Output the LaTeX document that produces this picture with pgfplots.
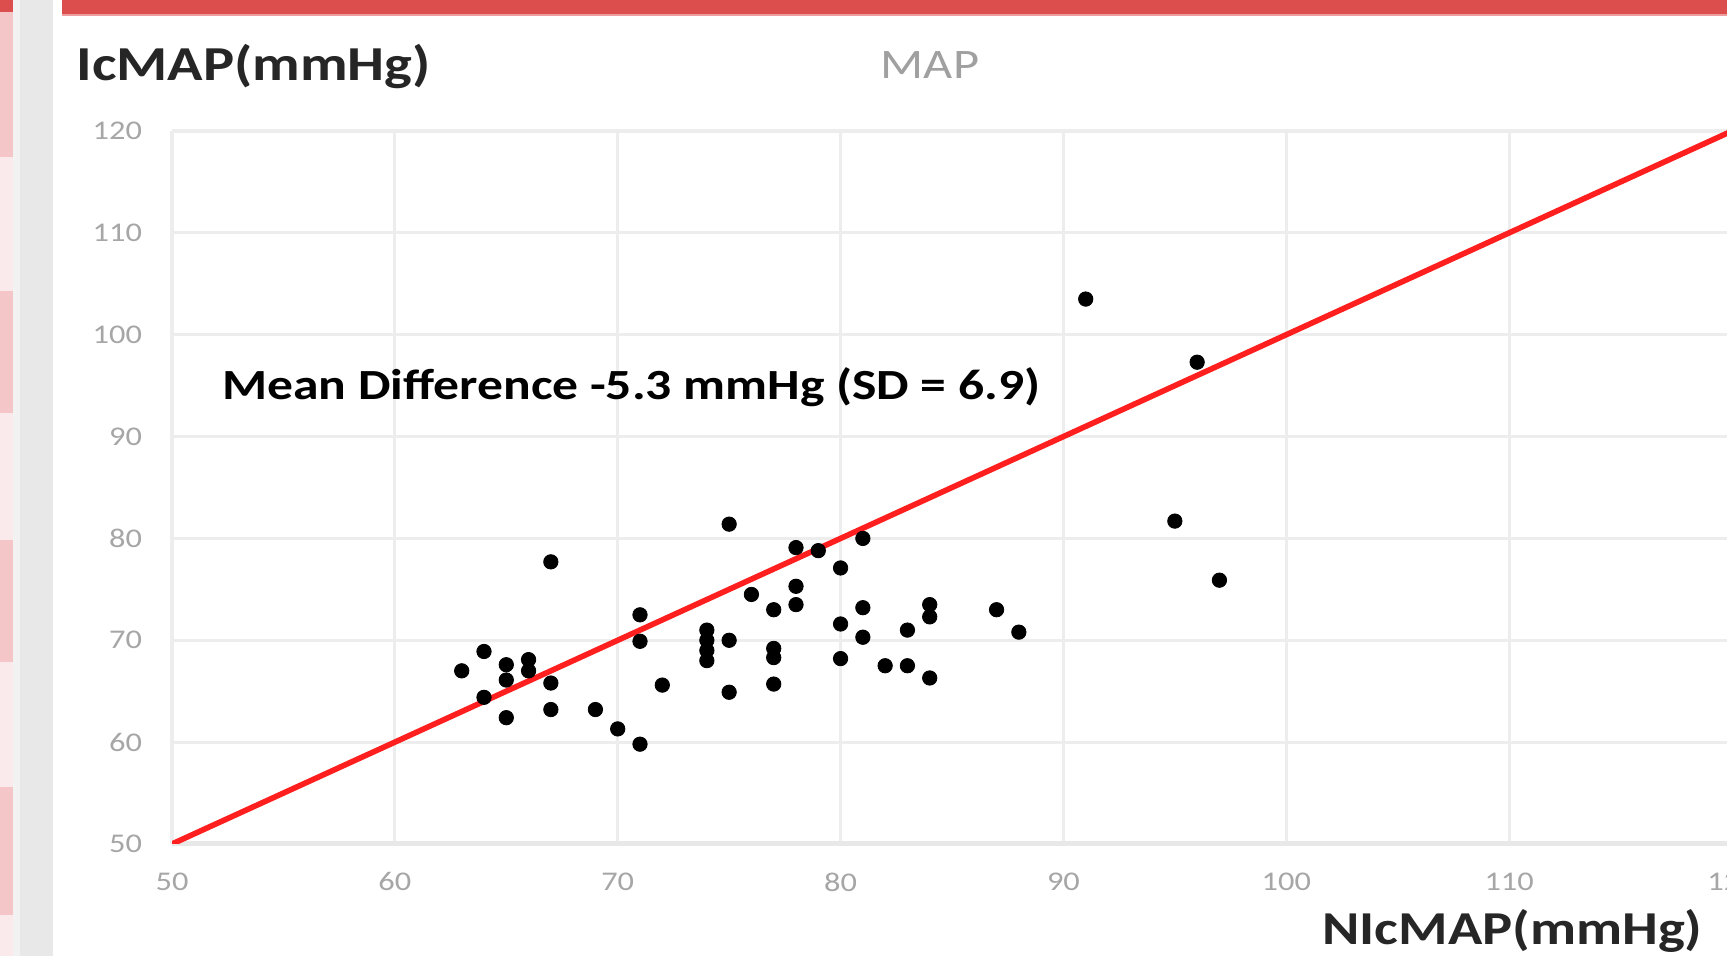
\documentclass[border=0pt]{standalone}
\usepackage{pgfplots}
\pgfplotsset{compat=1.18}
\usepackage{graphicx}
\usepackage{fontspec}
\setmainfont{Carlito}
\definecolor{bannerred}{HTML}{DC4D4D}
\definecolor{pinkdark}{HTML}{F4C6C8}
\definecolor{pinklight}{HTML}{FBEAEB}
\definecolor{sidegrey}{HTML}{E8E8E8}
\definecolor{gridgrey}{HTML}{EDEDED}
\definecolor{ticklab}{HTML}{A6A6A6}
\definecolor{titlegrey}{HTML}{A0A0A0}
\definecolor{linered}{HTML}{FF1F1F}
\newcommand{\sx}[1]{\scalebox{1.2}[1]{#1}}
\pgfplotstableread{
x y
63 67.0
64 68.9
64 64.4
65 67.6
65 66.1
65 62.4
66 68.1
66 67.0
67 77.7
67 65.8
67 63.2
69 63.2
70 61.3
71 59.8
71 72.5
71 69.9
72 65.6
74 71.0
74 70.0
74 69.0
74 68.0
75 81.4
75 70.0
75 64.9
76 74.5
77 73.0
77 69.2
77 68.3
77 65.7
78 79.1
78 75.3
78 73.5
79 78.8
80 77.1
80 71.6
80 68.2
81 80.0
81 73.2
81 70.3
82 67.5
83 71.0
83 67.5
84 73.5
84 72.3
84 66.3
87 73.0
88 70.8
91 103.5
95 81.7
96 97.3
97 75.9
}\mapdata
\begin{document}
\begin{tikzpicture}[x=1pt,y=1pt]
\fill[white] (0,0) rectangle (863.5,478);
\fill[pinkdark] (0,399.5) rectangle (6.5,478);
\fill[pinklight] (0,332.5) rectangle (6.5,399.5);
\fill[pinkdark] (0,271.5) rectangle (6.5,332.5);
\fill[pinklight] (0,208) rectangle (6.5,271.5);
\fill[pinkdark] (0,147) rectangle (6.5,208);
\fill[pinklight] (0,84.5) rectangle (6.5,147);
\fill[pinkdark] (0,20.5) rectangle (6.5,84.5);
\fill[pinklight] (0,0) rectangle (6.5,20.5);
\fill[bannerred] (0,472) rectangle (6.5,478);
\fill[black!5] (6.5,0) rectangle (10,478);
\fill[sidegrey] (10,0) rectangle (26.5,478);
\fill[bannerred] (31,471) rectangle (863.5,478);
\fill[bannerred!55] (31,470.2) rectangle (863.5,471);
\begin{axis}[
  at={(86pt,56pt)}, anchor=south west,
  scale only axis, width=780pt, height=356.5pt,
  xmin=50, xmax=120, ymin=50, ymax=120,
  xtick={50,60,70,80,90,100,110,120},
  xticklabels={\sx{50},\sx{60},\sx{70},\sx{80},\sx{90},\sx{100},\sx{110},\sx{120}},
  ytick={50,60,70,80,90,100,110,120},
  yticklabels={\sx{50},\sx{60},\sx{70},\sx{80},\sx{90},\sx{100},\sx{110},\sx{120}},
  grid=major,
  major grid style={draw=gridgrey, line width=1.6pt},
  major tick length=0pt,
  axis lines*=left,
  x axis line style={draw=black!9, line width=2.5pt},
  y axis line style={draw=none},
  tick label style={font=\fontsize{13.5}{15}\selectfont, text=ticklab},
  xticklabel style={yshift=-10.75pt},
  yticklabel style={xshift=-11.5pt},
  clip=true,
]
\addplot[only marks, mark=*, mark size=3.6pt, mark options={fill=black, draw=black}] table[x=x, y=y] {\mapdata};
\addplot[linered, line width=2.8pt] coordinates {(50,50) (120,120)};
\end{axis}
\node[anchor=base west, inner sep=0, font=\fontsize{24.4}{28}\selectfont\bfseries, text=black!85] at (38,437.5) {\sx{IcMAP(mmHg)}};
\node[anchor=base, inner sep=0, font=\fontsize{21}{24}\selectfont, text=titlegrey] at (465,438.5) {\sx{MAP}};
\node[anchor=base west, inner sep=0, font=\fontsize{21.5}{26}\selectfont\bfseries, text=black] at (111,278) {\sx{Mean Difference -5.3 mmHg (SD = 6.9)}};
\node[anchor=base west, inner sep=0, font=\fontsize{23.6}{28}\selectfont\bfseries, text=black!85] at (661,5.5) {\sx{NIcMAP(mmHg)}};
\pgfresetboundingbox
\path[use as bounding box] (0,0) rectangle (863.5,478);
\end{tikzpicture}
\end{document}
